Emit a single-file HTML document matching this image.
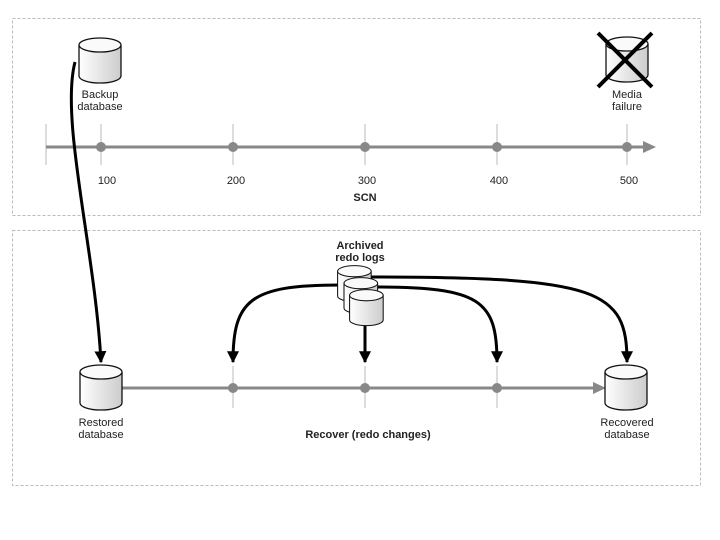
<!DOCTYPE html>
<html><head><meta charset="utf-8"><style>body{margin:0;background:#fff}svg{display:block}text{font-family:"Liberation Sans",sans-serif;font-size:11px;fill:#222}</style></head><body>
<svg width="720" height="540" viewBox="0 0 720 540">
<defs>
<linearGradient id="g" x1="0" x2="1"><stop offset="0" stop-color="#fff"/><stop offset="1" stop-color="#ccc"/></linearGradient>
<symbol id="cyl" overflow="visible"><path d="M0,7 v31 a21,7 0 0 0 42,0 v-31" fill="url(#g)" stroke="#111" stroke-width="1.3"/><ellipse cx="21" cy="7" rx="21" ry="7" fill="#fafafa" stroke="#111" stroke-width="1.3"/></symbol>
<marker id="a" markerWidth="12" markerHeight="12" refX="9" refY="5" orient="auto" markerUnits="userSpaceOnUse" viewBox="0 0 10 10"><path d="M0,0 L10,5 L0,10z" fill="#000"/></marker>
</defs>
<rect x="12.5" y="18.5" width="688" height="197" fill="none" stroke="#bbb" stroke-dasharray="3,2"/>
<rect x="12.5" y="230.5" width="688" height="255" fill="none" stroke="#bbb" stroke-dasharray="3,2"/>
<g stroke="#ddd" stroke-width="2">
<line x1="46" y1="124" x2="46" y2="165"/><line x1="101" y1="124" x2="101" y2="165"/><line x1="233" y1="124" x2="233" y2="165"/><line x1="365" y1="124" x2="365" y2="165"/><line x1="497" y1="124" x2="497" y2="165"/><line x1="627" y1="124" x2="627" y2="165"/>
<line x1="233" y1="366" x2="233" y2="408"/><line x1="365" y1="366" x2="365" y2="408"/><line x1="497" y1="366" x2="497" y2="408"/>
</g>
<line x1="46" y1="147" x2="645" y2="147" stroke="#888" stroke-width="3"/><path d="M643,141 L656,147 L643,153z" fill="#888"/>
<line x1="122" y1="388" x2="595" y2="388" stroke="#888" stroke-width="3"/><path d="M593,382 L606,388 L593,394z" fill="#888"/>
<g fill="#888"><circle cx="101" cy="147" r="5"/><circle cx="233" cy="147" r="5"/><circle cx="365" cy="147" r="5"/><circle cx="497" cy="147" r="5"/><circle cx="627" cy="147" r="5"/><circle cx="233" cy="388" r="5"/><circle cx="365" cy="388" r="5"/><circle cx="497" cy="388" r="5"/></g>
<g text-anchor="middle">
<text x="107" y="184">100</text><text x="236" y="184">200</text><text x="367" y="184">300</text><text x="499" y="184">400</text><text x="629" y="184">500</text>
<text x="365" y="201" style="font-weight:bold">SCN</text>
<text x="100" y="98">Backup</text><text x="100" y="110">database</text>
<text x="627" y="98">Media</text><text x="627" y="110">failure</text>
<text x="101" y="426">Restored</text><text x="101" y="438">database</text>
<text x="627" y="426">Recovered</text><text x="627" y="438">database</text>
<text x="360" y="249" style="font-weight:bold">Archived</text><text x="360" y="261" style="font-weight:bold">redo logs</text>
<text x="368" y="438" style="font-weight:bold">Recover (redo changes)</text>
</g>
<use href="#cyl" x="79" y="38"/>
<use href="#cyl" x="606" y="37"/>
<path d="M598,33 L652,87 M652,33 L598,87" stroke="#000" stroke-width="4"/>
<use href="#cyl" x="80" y="365"/>
<use href="#cyl" x="605" y="365"/>
<g fill="none" stroke="#000" stroke-width="3">
<path d="M75,62 C60,120 95,250 101,362" marker-end="url(#a)"/>
<path d="M340,285 C250,285 233,300 233,362" marker-end="url(#a)"/>
<path d="M375,287 C480,287 497,300 497,362" marker-end="url(#a)"/>
<path d="M370,277 C600,277 627,290 627,362" marker-end="url(#a)"/>
<path d="M365,320 L365,362" marker-end="url(#a)"/>
</g>
<g transform="scale(0.8)"><use href="#cyl" x="422" y="332"/><use href="#cyl" x="430" y="347"/><use href="#cyl" x="437" y="362"/></g>
</svg>
</body></html>
